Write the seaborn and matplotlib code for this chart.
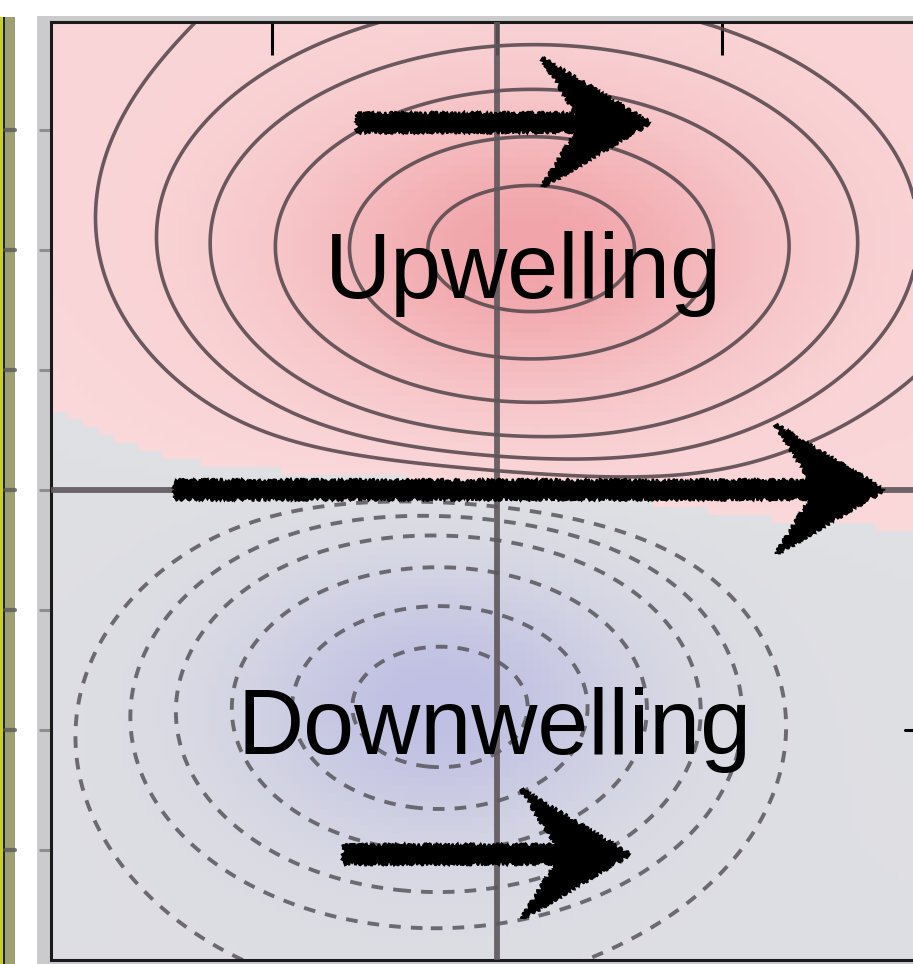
import numpy as np
import matplotlib
matplotlib.use("Agg")
import matplotlib.pyplot as plt
import seaborn as sns
from matplotlib.colors import ListedColormap, TwoSlopeNorm, to_rgb
from matplotlib.patches import Rectangle, FancyArrow
from matplotlib.transforms import blended_transform_factory

# Vertical-velocity dipole: upwelling cell (positive) over downwelling cell (negative)
cell_amplitude = [1.0, -1.0]
cell_center_x = [0.15, -0.25]
cell_center_y = [1.0, -0.90]
cell_width_x = [0.75, 0.62]
cell_width_y = [0.43, 0.40]

# weak large-scale background tilting the zero line
background_strength = 0.025
background_offset = 0.21
background_slope = -0.17

solid_levels = [0.05, 0.1, 0.18, 0.335, 0.58, 0.85]
dashed_levels = [-0.85, -0.6, -0.36, -0.2, -0.12, -0.07]

# Current arrows: tail x, tip x, row y
arrow_tail_x = [-0.62, -1.43, -0.68]
arrow_tip_x = [0.68, 1.72, 0.59]
arrow_y = [1.53, 0.0, -1.52]

labels = ["Upwelling", "Downwelling"]
label_x = [0.12, -0.01]
label_y = [0.80, -1.10]

x_ticks = [-1, 0, 1]
y_ticks = [-1.5, -1, -0.5, 0, 0.5, 1, 1.5]
right_ticks = [-1]

x_range = (-1.98, 1.96)
y_range = (-1.96, 1.95)


def field(x, y):
    total = background_strength * (y - background_offset - background_slope * x)
    for a, cx, cy, sx, sy in zip(cell_amplitude, cell_center_x, cell_center_y,
                                 cell_width_x, cell_width_y):
        total = total + a * np.exp(-0.5 * (((x - cx) / sx) ** 2 + ((y - cy) / sy) ** 2))
    return total


sns.set_theme(style="white")
plt.rcParams["font.family"] = ["Liberation Sans", "DejaVu Sans"]

W, H = 913, 964
fig = plt.figure(figsize=(W / 100, H / 100), dpi=100)
fig.patch.set_facecolor("white")

# neighbouring panel strip on the far left
fig.add_artist(Rectangle((0, 0), 15 / W, (H - 17) / H, transform=fig.transFigure,
                         facecolor="#9da070", edgecolor="none", zorder=0))
fig.add_artist(Rectangle((0, 0), 3 / W, (H - 17) / H, transform=fig.transFigure,
                         facecolor="#c9cf1e", edgecolor="none", zorder=0))
fig.add_artist(Rectangle((2.5 / W, 0), 2.5 / W, (H - 17) / H, transform=fig.transFigure,
                         facecolor="#1e1e1e", edgecolor="none", zorder=1))
# grey margin around the main panel
fig.add_artist(Rectangle((37 / W, 0), 1, (H - 16) / H, transform=fig.transFigure,
                         facecolor="#cbcbcd", edgecolor="none", zorder=0))

ax = fig.add_axes([51 / W, 4 / H, 887 / W, 938 / H])

# coloured shading, coarse grid
xc = np.linspace(x_range[0], x_range[1], 112)
yc = np.linspace(y_range[0], y_range[1], 118)
XC, YC = np.meshgrid(xc, yc)
ramp = np.array([np.linspace(0, 1, 128)]).T
lo, mid_n = np.array(to_rgb("#c0c0e4")), np.array(to_rgb("#dfe0e3"))
mid_p, hi = np.array(to_rgb("#fad7d9")), np.array(to_rgb("#f1a5aa"))
cols = np.vstack([lo + ramp * (mid_n - lo), mid_p + ramp * (hi - mid_p)])
cmap = ListedColormap(cols)
norm = TwoSlopeNorm(vmin=-1.0, vcenter=0.0, vmax=1.0)
ax.imshow(field(XC, YC), origin="lower", cmap=cmap, norm=norm,
          extent=[x_range[0], x_range[1], y_range[0], y_range[1]],
          interpolation="nearest", aspect="auto", zorder=0)

# contour lines
xf = np.linspace(x_range[0], x_range[1], 500)
yf = np.linspace(y_range[0], y_range[1], 500)
XF, YF = np.meshgrid(xf, yf)
ZF = field(XF, YF)
ax.contour(XF, YF, ZF, levels=solid_levels, colors="#5a4b51", linewidths=2.6,
           linestyles="solid", alpha=0.9, zorder=2)
ax.contour(XF, YF, ZF, levels=dashed_levels, colors="#58565c", linewidths=2.8,
           linestyles=[(0, (3, 2.6))], alpha=0.85, zorder=2)

# equator and central meridian
ax.axhline(0, color="#5e565a", lw=4.2, alpha=0.9, zorder=3)
ax.axvline(0, color="#5e565a", lw=4.2, alpha=0.9, zorder=3)

# arrows
for tx, hx, yy in zip(arrow_tail_x, arrow_tip_x, arrow_y):
    arr = FancyArrow(tx, yy, hx - tx, 0, width=0.075, head_width=0.54,
                     head_length=0.48, length_includes_head=True, overhang=0.32,
                     facecolor="black", edgecolor="black", lw=1.5, zorder=5)
    arr.set_sketch_params(scale=2.0, length=5, randomness=4)
    ax.add_patch(arr)

for t, lx, ly in zip(labels, label_x, label_y):
    ax.text(lx, ly, t, fontsize=66, ha="center", va="baseline", color="black", zorder=6)

ax.set_xlim(*x_range)
ax.set_ylim(*y_range)
ax.set_xticks(x_ticks)
ax.set_yticks(y_ticks)
ax.tick_params(axis="x", which="major", direction="in", top=True, bottom=False,
               labeltop=False, labelbottom=False, length=24, width=2.2, color="black")
ax.tick_params(axis="y", which="major", direction="out", left=True, right=False,
               labelleft=False, labelright=False, length=9, width=2.2, color="#8e8e8e")
for s in ax.spines.values():
    s.set_color("#1a1a1a")
    s.set_linewidth(2.2)

# right-hand inward ticks
trans_r = blended_transform_factory(ax.transAxes, ax.transData)
for yv in right_ticks:
    ax.plot([1 - 33 / 887, 1], [yv, yv], transform=trans_r,
            color="black", lw=2.2, clip_on=False, zorder=7)

# tick marks echoed on the neighbouring strip
trans_l = blended_transform_factory(fig.transFigure, ax.transData)
for yv in y_ticks:
    fig.add_artist(plt.Line2D([5 / W, 15 / W], [yv, yv], transform=trans_l,
                              color="#5a5a5a", lw=3, alpha=0.8))

fig.savefig("out.png", dpi=100)
